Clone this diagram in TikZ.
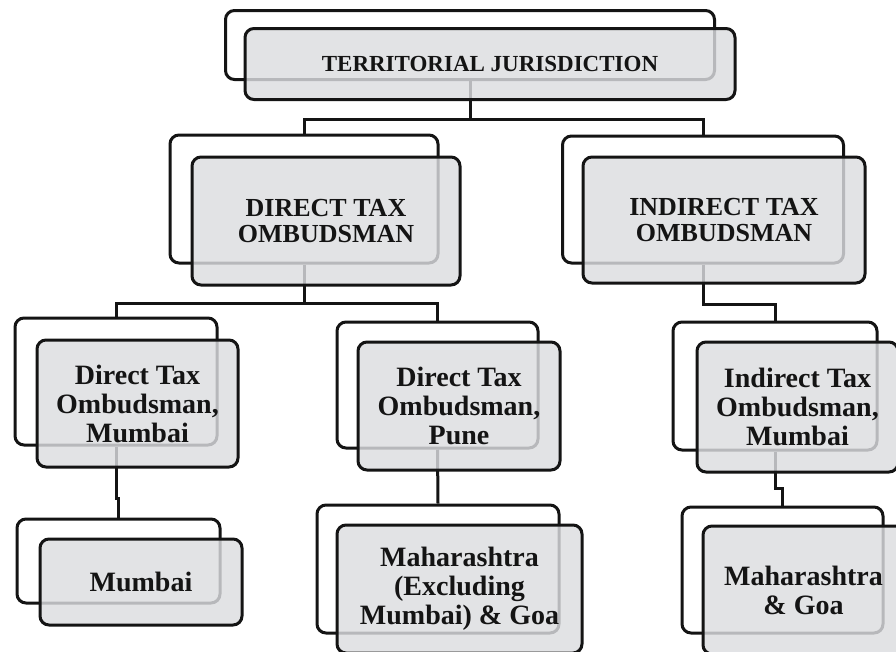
\documentclass[tikz,border=0pt]{standalone}
\usepackage{fontspec}
\setmainfont{Liberation Serif}
\definecolor{BoxGray}{RGB}{220,221,224}
\definecolor{LineDark}{RGB}{20,20,20}
\usepackage{tikz}
\usetikzlibrary{positioning,calc}

\begin{document}
\begin{tikzpicture}[x=1pt, y=-1pt,
        backbox/.style={rectangle, draw=LineDark, fill=white, line width=3pt,
                        rounded corners=9pt, inner sep=0pt},
        frontbox/.style={rectangle, draw=LineDark, fill=BoxGray, fill opacity=0.82,
                         text opacity=1, line width=3pt, rounded corners=9pt,
                         inner sep=0pt, align=center, font=\bfseries, text=LineDark},
        topfont/.style={font=\fontsize{23}{25}\selectfont\bfseries},
        midfont/.style={font=\fontsize{26}{26}\selectfont\bfseries},
        lowfont/.style={font=\fontsize{28}{29}\selectfont\bfseries},
        conn/.style={line width=3pt, LineDark}
      ]
        \fill[white] (0,0) rectangle (896,651);
        \clip (0,0) rectangle (896,651);

        % back boxes
        \node[backbox, minimum width=489pt, minimum height=69pt]  (topb) at (470,45) {};
        \node[backbox, minimum width=268pt, minimum height=128pt] (dtob) at (304,199) {};
        \node[backbox, minimum width=281pt, minimum height=127pt] (itob) at (703,199.5) {};
        \node[backbox, minimum width=202pt, minimum height=127pt] (dtmb) at (116,381.5) {};
        \node[backbox, minimum width=201pt, minimum height=126pt] (dtpb) at (437.5,385) {};
        \node[backbox, minimum width=204pt, minimum height=128pt] (itmb) at (775,386) {};
        \node[backbox, minimum width=203pt, minimum height=84pt]  (mumb) at (118.5,561) {};
        \node[backbox, minimum width=242pt, minimum height=128pt] (memb) at (438,569) {};
        \node[backbox, minimum width=201pt, minimum height=126pt] (mgb)  at (782.5,570) {};

        % connectors
        \draw[conn] (topb.south) -- ++(0,38) -| (dtob.north);
        \draw[conn] (topb.south) -- ++(0,38) -| (itob.north);
        \draw[conn] (dtob.south) -- ++(0,39) -| (dtmb.north);
        \draw[conn] (dtob.south) -- ++(0,39) -| (dtpb.north);
        \draw[conn] (itob.south) -- ++(0,40) -| (itmb.north);
        \draw[conn] (dtmb.south) -- ++(0,52) -| (mumb.north);
        \draw[conn] (dtpb.south) -- (memb.north);
        \draw[conn] (itmb.south) -- ++(0,37) -| (mgb.north);

        % front boxes
        \node[frontbox, topfont, minimum width=490pt, minimum height=71pt] (top) at (490,64) {TERRITORIAL JURISDICTION};
        \node[frontbox, midfont, minimum width=268pt, minimum height=128pt] (dto) at (326,221) {DIRECT TAX\\OMBUDSMAN};
        \node[frontbox, midfont, minimum width=282pt, minimum height=126pt] (ito) at (724,220) {INDIRECT TAX\\OMBUDSMAN};
        \node[frontbox, lowfont, minimum width=201pt, minimum height=127pt] (dtm) at (137.5,403.5) {Direct Tax\\Ombudsman,\\Mumbai};
        \node[frontbox, lowfont, minimum width=202pt, minimum height=128pt] (dtp) at (459,406) {Direct Tax\\Ombudsman,\\Pune};
        \node[frontbox, lowfont, minimum width=201pt, minimum height=130pt] (itm) at (797.5,407) {Indirect Tax\\Ombudsman,\\Mumbai};
        \node[frontbox, lowfont, minimum width=202pt, minimum height=86pt]  (mum) at (141,582) {Mumbai};
        \node[frontbox, lowfont, minimum width=245pt, minimum height=128pt] (mem) at (459.5,589) {Maharashtra\\(Excluding\\Mumbai) \& Goa};
        \node[frontbox, lowfont, minimum width=201pt, minimum height=128pt] (mg)  at (803.5,590) {Maharashtra\\\& Goa};

        \useasboundingbox (0,0) rectangle (896,651);
      \end{tikzpicture}
\end{document}
